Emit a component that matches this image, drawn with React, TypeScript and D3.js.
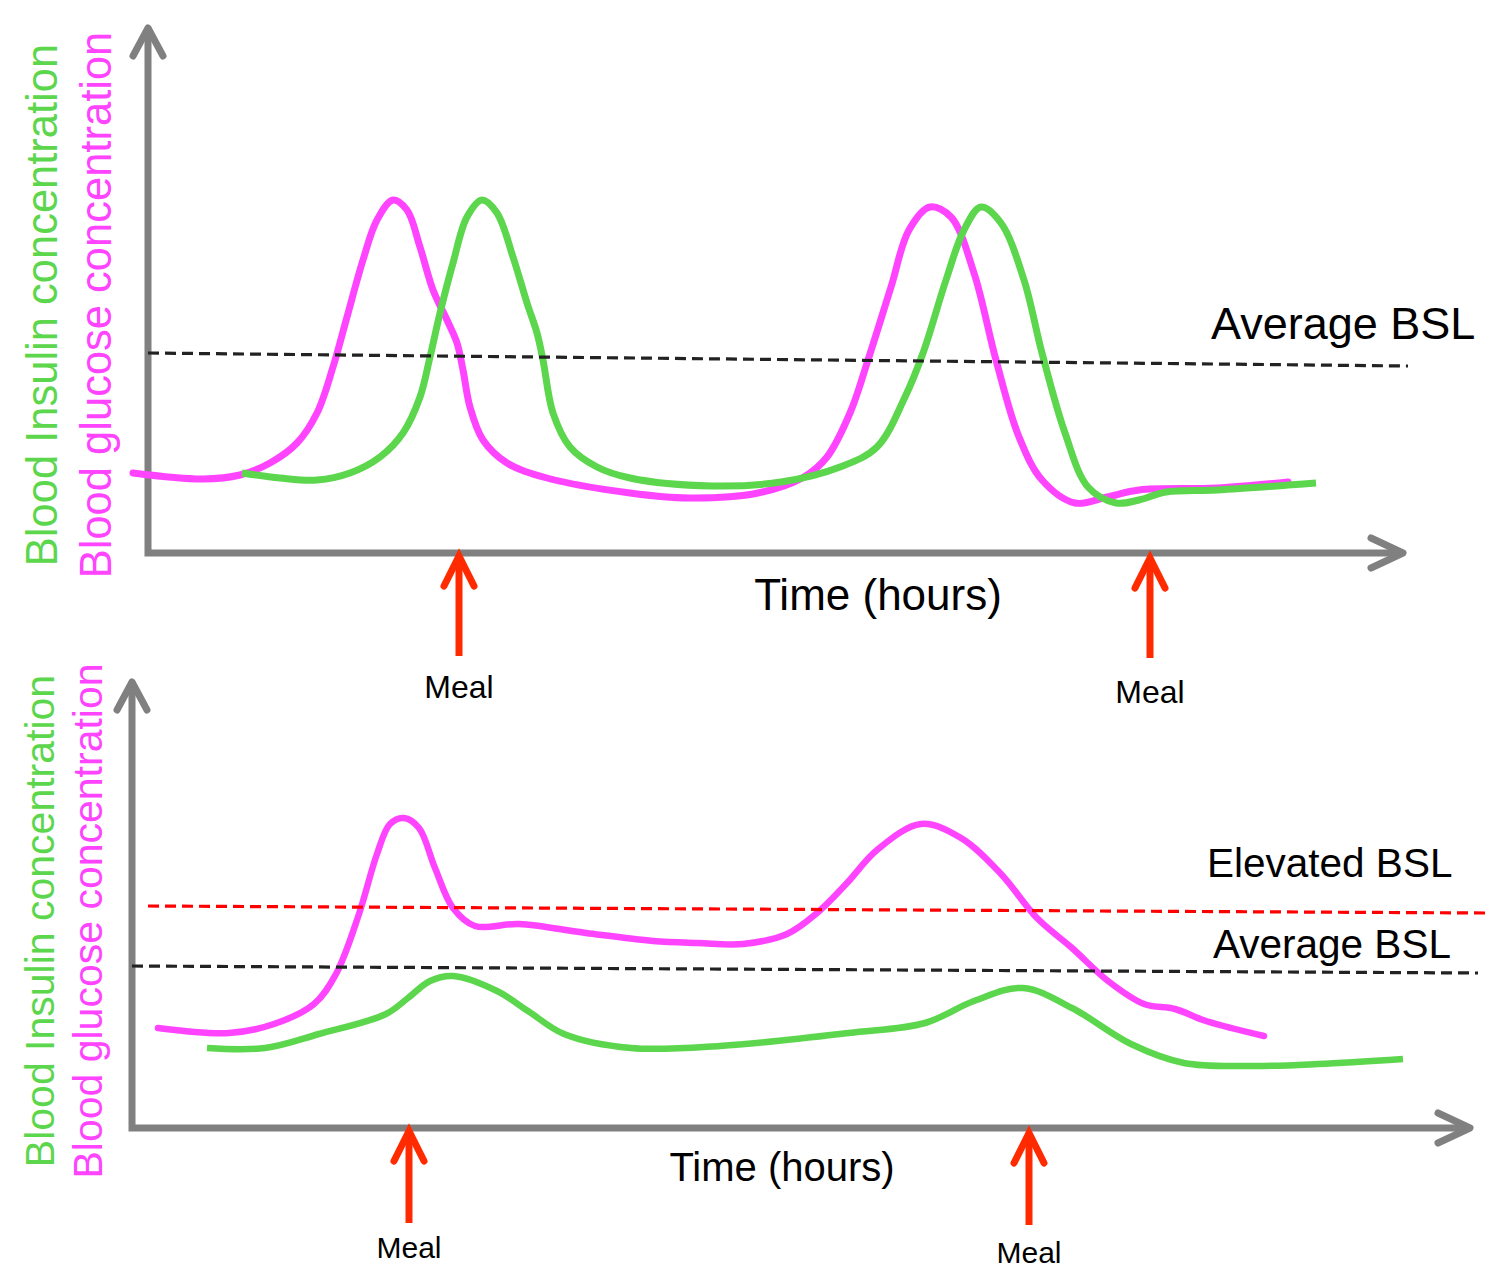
import React from "react";
import * as d3 from "d3";

type Pt = [number, number];

// ---------- Top panel data (time units, concentration units) ----------
const topGlucose: Pt[] = [
  [-1.5, 16], [5.5, 14.8], [9.2, 15.6], [12.2, 18], [14.9, 22], [16.9, 28], [18.5, 37.2],
  [19.9, 47.2], [21.5, 58.6], [22.9, 66.6], [24.5, 70.6], [25.9, 68.6], [27.2, 61.2],
  [28.5, 52.6], [29.9, 46.6], [30.9, 42], [31.5, 36.6], [32.2, 29.2], [33.5, 22.6],
  [35.9, 18], [39.9, 15], [48.2, 12], [54.1, 11], [61, 12], [65.6, 15.2], [67.9, 19.2],
  [70.2, 28], [72, 38.6], [74.3, 53.2], [76.1, 64.6], [78.2, 69.2], [80.3, 67.2],
  [82.6, 56], [84.8, 38.6], [87.1, 23.2], [89.4, 14.6], [92.7, 10], [95.9, 11.2],
  [99.1, 12.6], [106.9, 13], [114, 14.2],
];
const topInsulin: Pt[] = [
  [9.4, 16], [13.2, 15], [16.9, 14.6], [20.2, 16], [23.2, 19.2], [25.5, 24], [27.2, 31.2],
  [28.2, 39.2], [29.2, 48], [30.5, 58], [31.9, 67.2], [33.4, 70.6], [34.9, 68], [36.5, 59.2],
  [37.9, 50], [38.9, 44], [39.5, 38.6], [40.5, 28], [42.2, 21.2], [44.9, 17.2], [48.2, 15],
  [56.4, 13.4], [63.3, 14.2], [69.2, 17.2], [72.9, 21.2], [75.7, 31.2], [77.5, 40],
  [79.8, 54.6], [81.6, 64.6], [83.3, 69.2], [85.3, 66], [87.6, 54.6], [89.4, 40],
  [91.7, 24], [94, 13.2], [96.8, 10], [99.1, 10.6], [101.8, 12.2], [106.9, 12.6], [116.8, 14],
];
const topAverageBSL: Pt[] = [[0, 40], [126, 37.4]];
const topMeals = [31.1, 100.2];

// ---------- Bottom panel data ----------
const bottomGlucose: Pt[] = [
  [2.6, 20], [9.7, 19], [14.2, 20.8], [18.2, 24.8], [20.4, 30.8], [22.7, 42.8], [24.5, 54.8],
  [25.8, 60.8], [27.2, 62], [28.7, 60], [30.3, 52], [32.1, 44], [34.3, 40.4], [38.7, 40.8],
  [45.4, 39], [52.1, 37.4], [56.6, 37], [61.1, 36.8], [65.5, 38.8], [68.5, 43],
  [71.5, 49], [74.5, 55.6], [78.9, 60.8], [82.9, 58], [86.9, 50.8], [90.5, 42], [94, 36],
  [97.6, 29.4], [101.2, 24.8], [104.3, 23.8], [107.4, 21.4], [113.2, 18.4],
];
const bottomInsulin: Pt[] = [
  [7.5, 16], [13.3, 16], [18.7, 18.8], [25.4, 22.8], [27.6, 26], [29.8, 29.4], [32.1, 30.4],
  [36.5, 27.4], [39.6, 23.4], [43.2, 18.8], [49.9, 16], [58.8, 16.4], [71.7, 19], [79.3, 21],
  [84.2, 25.4], [89.1, 28], [94, 24], [99.9, 16.8], [105.2, 13], [111.9, 12.4],
  [118.6, 12.8], [127.1, 13.8],
];
const bottomElevatedBSL: Pt[] = [[1.6, 44.4], [135.4, 43]];
const bottomAverageBSL: Pt[] = [[0, 32.4], [134.6, 31]];
const bottomMeals = [27.7, 89.7];

// ---------- Text ----------
const yLabelInsulin = "Blood Insulin concentration";
const yLabelGlucose = "Blood glucose concentration";
const xLabel = "Time (hours)";
const mealLabel = "Meal";
const avgLabel = "Average BSL";
const elevLabel = "Elevated BSL";

const FONT = "'Liberation Sans', Arial, sans-serif";
const GRAY = "#808080";
const MAGENTA = "#ff44ff";
const GREEN = "#5cd64c";
const ARROW_RED = "#ff2a00";

function Panel(props: {
  xDomain: [number, number];
  xRange: [number, number];
  yDomain: [number, number];
  yRange: [number, number];
  glucose: Pt[];
  insulin: Pt[];
  avg: Pt[];
  elevated?: Pt[];
  meals: number[];
  xAxisEnd: number;
  yAxisTop: number;
  curveWidth: number;
  yLabelSize: number;
  yLabelX: [number, number];
  yLabelCY: number;
  xLabelPos: [number, number, number];
  mealLen: number;
  mealLabelSize: number;
  mealLabelDy: number[];
  avgLabelPos: [number, number, number];
  elevLabelPos?: [number, number, number];
}) {
  const x = d3.scaleLinear().domain(props.xDomain).range(props.xRange);
  const y = d3.scaleLinear().domain(props.yDomain).range(props.yRange);
  const line = d3
    .line<Pt>()
    .x((d) => x(d[0]))
    .y((d) => y(d[1]))
    .curve(d3.curveCatmullRom.alpha(0.5));
  const straight = d3
    .line<Pt>()
    .x((d) => x(d[0]))
    .y((d) => y(d[1]));

  const ox = x(0);
  const oy = y(0);
  const xe = x(props.xAxisEnd);
  const yt = y(props.yAxisTop);

  return (
    <g>
      {/* axes */}
      <path
        d={`M${ox},${yt + 2} L${ox},${oy} L${xe - 2},${oy}`}
        fill="none"
        stroke={GRAY}
        strokeWidth={7}
        strokeLinejoin="miter"
      />
      <path
        d={`M${ox - 15},${yt + 28} L${ox},${yt} L${ox + 15},${yt + 28}`}
        fill="none"
        stroke={GRAY}
        strokeWidth={7}
        strokeLinecap="round"
        strokeLinejoin="round"
      />
      <path
        d={`M${xe - 32},${oy - 15} L${xe},${oy} L${xe - 32},${oy + 15}`}
        fill="none"
        stroke={GRAY}
        strokeWidth={7}
        strokeLinecap="round"
        strokeLinejoin="round"
      />

      {/* curves */}
      <path d={line(props.glucose) || ""} fill="none" stroke={MAGENTA} strokeWidth={props.curveWidth} strokeLinecap="round" />
      <path d={line(props.insulin) || ""} fill="none" stroke={GREEN} strokeWidth={props.curveWidth} />

      {/* reference lines */}
      {props.elevated && (
        <path d={straight(props.elevated) || ""} fill="none" stroke="#ff0000" strokeWidth={3.2} strokeDasharray="11 6" />
      )}
      <path d={straight(props.avg) || ""} fill="none" stroke="#222" strokeWidth={3.2} strokeDasharray="11 6" />

      {/* meal arrows */}
      {props.meals.map((m, i) => {
        const mx = x(m);
        const top = oy + 3 + i * 2;
        return (
          <g key={i}>
            <path
              d={`M${mx},${top + props.mealLen} L${mx},${top + 4}`}
              stroke={ARROW_RED}
              strokeWidth={7}
              fill="none"
            />
            <path
              d={`M${mx - 15},${top + 30} L${mx},${top} L${mx + 15},${top + 30}`}
              stroke={ARROW_RED}
              strokeWidth={7}
              fill="none"
              strokeLinecap="round"
              strokeLinejoin="miter"
            />
            <text
              x={mx}
              y={oy + props.mealLabelDy[i]}
              textAnchor="middle"
              fontFamily={FONT}
              fontSize={props.mealLabelSize}
              fill="#000"
            >
              {mealLabel}
            </text>
          </g>
        );
      })}

      {/* labels */}
      <text
        x={props.xLabelPos[0]}
        y={props.xLabelPos[1]}
        textAnchor="middle"
        fontFamily={FONT}
        fontSize={props.xLabelPos[2]}
        fill="#000"
      >
        {xLabel}
      </text>
      <text
        x={props.avgLabelPos[0]}
        y={props.avgLabelPos[1]}
        textAnchor="start"
        fontFamily={FONT}
        fontSize={props.avgLabelPos[2]}
        fill="#000"
      >
        {avgLabel}
      </text>
      {props.elevLabelPos && (
        <text
          x={props.elevLabelPos[0]}
          y={props.elevLabelPos[1]}
          textAnchor="start"
          fontFamily={FONT}
          fontSize={props.elevLabelPos[2]}
          fill="#000"
        >
          {elevLabel}
        </text>
      )}
      <text
        transform={`translate(${props.yLabelX[0]},${props.yLabelCY}) rotate(-90)`}
        textAnchor="middle"
        fontFamily={FONT}
        fontSize={props.yLabelSize}
        fill={GREEN}
      >
        {yLabelInsulin}
      </text>
      <text
        transform={`translate(${props.yLabelX[1]},${props.yLabelCY}) rotate(-90)`}
        textAnchor="middle"
        fontFamily={FONT}
        fontSize={props.yLabelSize}
        fill={MAGENTA}
      >
        {yLabelGlucose}
      </text>
    </g>
  );
}

export default function App() {
  return (
    <svg
      width={1486}
      height={1288}
      style={{ position: "absolute", left: 0, top: 0, display: "block", background: "#fff" }}
    >
      <rect x={0} y={0} width={1486} height={1288} fill="#fff" />
      <Panel
        xDomain={[0, 125]}
        xRange={[148, 1398]}
        yDomain={[0, 100]}
        yRange={[553, 53]}
        glucose={topGlucose}
        insulin={topInsulin}
        avg={topAverageBSL}
        meals={topMeals}
        xAxisEnd={125.5}
        yAxisTop={105}
        curveWidth={7}
        yLabelSize={43.5}
        yLabelX={[57, 111]}
        yLabelCY={305}
        xLabelPos={[878, 610, 44]}
        mealLen={100}
        mealLabelSize={32}
        mealLabelDy={[145, 150]}
        avgLabelPos={[1211, 339, 45]}
      />
      <Panel
        xDomain={[0, 134]}
        xRange={[132, 1472]}
        yDomain={[0, 90]}
        yRange={[1128, 678]}
        glucose={bottomGlucose}
        insulin={bottomInsulin}
        avg={bottomAverageBSL}
        elevated={bottomElevatedBSL}
        meals={bottomMeals}
        xAxisEnd={133.8}
        yAxisTop={89.2}
        curveWidth={6.5}
        yLabelSize={41}
        yLabelX={[54, 102]}
        yLabelCY={921}
        xLabelPos={[782, 1181, 40]}
        mealLen={92}
        mealLabelSize={30}
        mealLabelDy={[130, 135]}
        avgLabelPos={[1213, 958, 40.5]}
        elevLabelPos={[1207, 877, 40.5]}
      />
    </svg>
  );
}
